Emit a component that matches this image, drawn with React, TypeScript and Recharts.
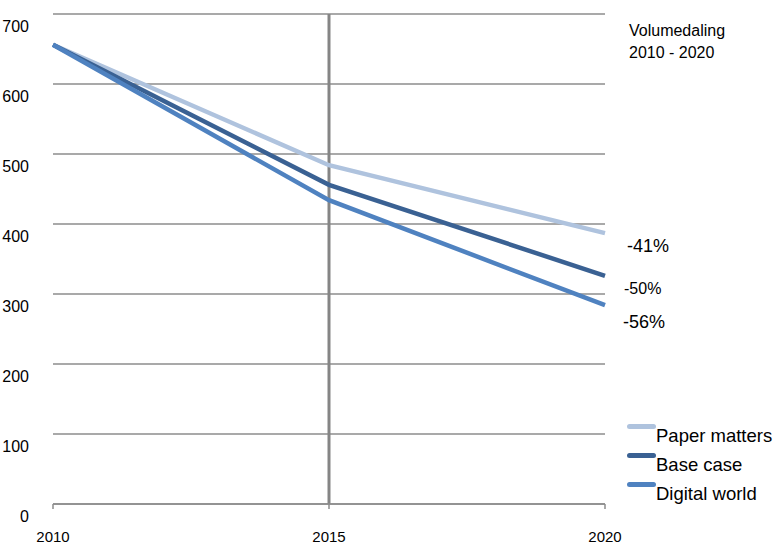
import { CartesianGrid, Line, LineChart, ReferenceLine, XAxis, YAxis } from "recharts"

document.body.style.margin = "0"

const years = ["2010", "2015", "2020"]
const paperMatters = [656, 484, 387]
const baseCase = [656, 456, 326]
const digitalWorld = [656, 434, 284]
const yTicks = [0, 100, 200, 300, 400, 500, 600, 700]
const changeLabels = ["-41%", "-50%", "-56%"]

const series = [
  { key: "Paper matters", color: "#afc3de" },
  { key: "Base case", color: "#3a6193" },
  { key: "Digital world", color: "#4f82c0" },
]

const data = years.map((year, i) => ({
  year,
  "Paper matters": paperMatters[i],
  "Base case": baseCase[i],
  "Digital world": digitalWorld[i],
}))

const font = "'Liberation Sans', Arial, Helvetica, sans-serif"

function YTick({ x, y, payload }: any) {
  return (
    <text x={x - 16} y={y + 18} textAnchor="end" fontSize={16} fontFamily={font} fill="#000">
      {payload.value}
    </text>
  )
}

function XTick({ x, y, payload }: any) {
  return (
    <text x={x} y={y + 31} textAnchor="middle" fontSize={15} fontFamily={font} fill="#000">
      {payload.value}
    </text>
  )
}

function LegendBox() {
  return (
    <div style={{ fontFamily: font, fontSize: 18.5, color: "#000" }}>
      {series.map((s) => (
        <div key={s.key} style={{ position: "relative", height: 29 }}>
          <div
            style={{
              position: "absolute",
              left: 0,
              top: 0,
              width: 29,
              height: 5,
              borderRadius: 3,
              background: s.color,
            }}
          />
          <div style={{ position: "absolute", left: 29, top: 1, whiteSpace: "nowrap" }}>{s.key}</div>
        </div>
      ))}
    </div>
  )
}

export default function App() {
  return (
    <div style={{ position: "relative", width: 775, height: 545, background: "#fff" }}>
      <LineChart width={775} height={545} data={data} margin={{ top: 14, right: 170, left: 0, bottom: 0 }}>
        <CartesianGrid vertical={false} stroke="#8c8c8c" strokeWidth={1.5} />
        <XAxis
          dataKey="year"
          height={41}
          tick={<XTick />}
          tickLine={{ stroke: "#8c8c8c", strokeWidth: 1.5 }}
          tickSize={5}
          axisLine={{ stroke: "#8c8c8c", strokeWidth: 1.5 }}
          interval={0}
        />
        <YAxis
          width={53}
          domain={[0, 700]}
          ticks={yTicks}
          tick={<YTick />}
          axisLine={false}
          tickLine={false}
        />
        <ReferenceLine x="2015" stroke="#858585" strokeWidth={3} />
        {series.map((s) => (
          <Line
            key={s.key}
            type="linear"
            dataKey={s.key}
            stroke={s.color}
            strokeWidth={4.5}
            dot={false}
            activeDot={false}
            isAnimationActive={false}
          />
        ))}
      </LineChart>
      <div style={{ position: "absolute", left: 627, top: 424, width: 150 }}>
        <LegendBox />
      </div>
      <div style={{ position: "absolute", left: 629, top: 20, fontFamily: font, fontSize: 16, lineHeight: "22px" }}>
        Volumedaling
        <br />
        2010 - 2020
      </div>
      <div style={{ position: "absolute", left: 627, top: 236, fontFamily: font, fontSize: 18 }}>{changeLabels[0]}</div>
      <div style={{ position: "absolute", left: 624, top: 280, fontFamily: font, fontSize: 16 }}>{changeLabels[1]}</div>
      <div style={{ position: "absolute", left: 623, top: 312, fontFamily: font, fontSize: 18 }}>{changeLabels[2]}</div>
    </div>
  )
}
